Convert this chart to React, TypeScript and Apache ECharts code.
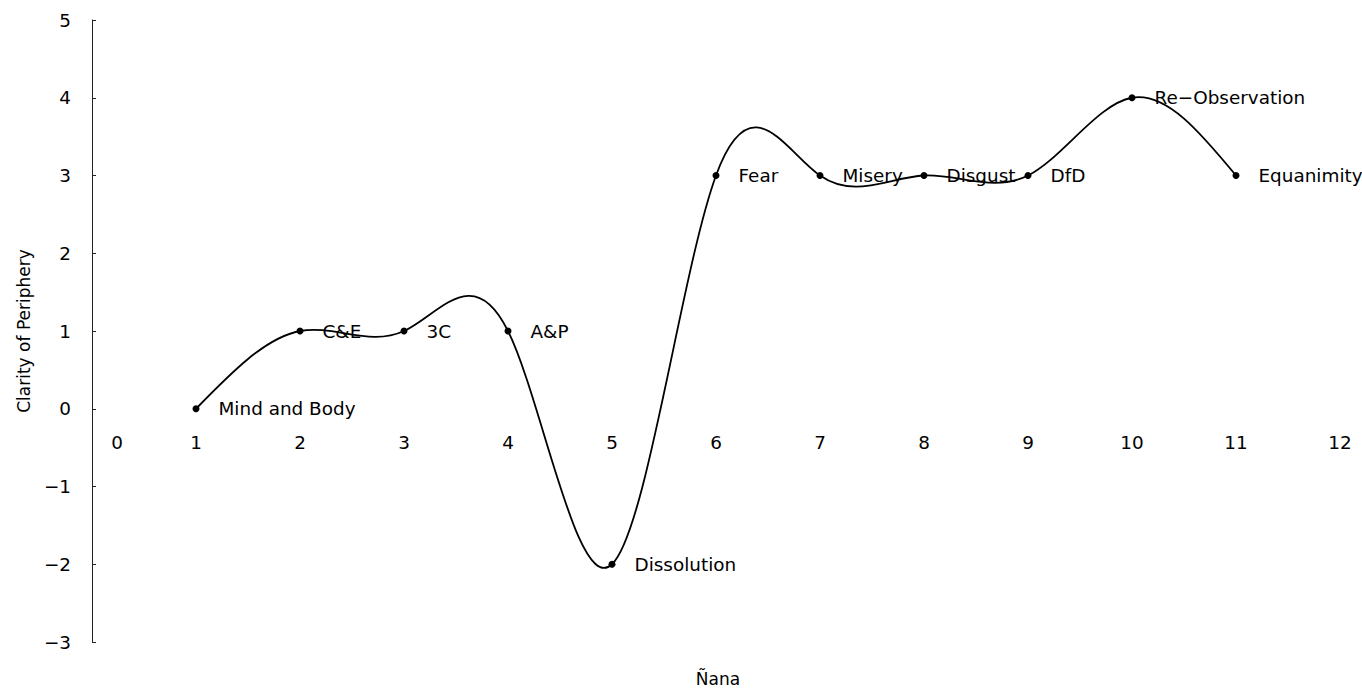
import React, { useEffect, useRef } from "react";
import * as echarts from "echarts";

// Stages of insight (ñana) and how clear the periphery is at each one
const stageNumbers = [1, 2, 3, 4, 5, 6, 7, 8, 9, 10, 11];
const clarityValues = [0, 1, 1, 1, -2, 3, 3, 3, 3, 4, 3];
const stageNames = [
  "Mind and Body",
  "C&E",
  "3C",
  "A&P",
  "Dissolution",
  "Fear",
  "Misery",
  "Disgust",
  "DfD",
  "Re\u2212Observation",
  "Equanimity",
];

const FONT = "DejaVu Sans";
const INK = "#000";

// Second derivatives of a natural cubic spline through (xs, ys)
function naturalSplineM(xs: number[], ys: number[]): number[] {
  const n = xs.length;
  const M = new Array(n).fill(0);
  if (n < 3) return M;
  const a: number[] = [], b: number[] = [], c: number[] = [], d: number[] = [];
  for (let i = 1; i < n - 1; i++) {
    const h0 = xs[i] - xs[i - 1];
    const h1 = xs[i + 1] - xs[i];
    a.push(h0);
    b.push(2 * (h0 + h1));
    c.push(h1);
    d.push(6 * ((ys[i + 1] - ys[i]) / h1 - (ys[i] - ys[i - 1]) / h0));
  }
  const m = b.length;
  for (let i = 1; i < m; i++) {
    const w = a[i] / b[i - 1];
    b[i] -= w * c[i - 1];
    d[i] -= w * d[i - 1];
  }
  const sol = new Array(m).fill(0);
  sol[m - 1] = d[m - 1] / b[m - 1];
  for (let i = m - 2; i >= 0; i--) sol[i] = (d[i] - c[i] * sol[i + 1]) / b[i];
  for (let i = 0; i < m; i++) M[i + 1] = sol[i];
  return M;
}

const splineM = naturalSplineM(stageNumbers, clarityValues);

export default function App() {
  const ref = useRef<HTMLDivElement>(null);

  useEffect(() => {
    if (!ref.current) return;
    const chart = echarts.init(ref.current, undefined, { renderer: "svg" });
    const points = stageNumbers.map((x, i) => [x, clarityValues[i]]);

    // Each data item draws the spline segment to the next stage as one bezier curve
    const renderSegment = (params: any, api: any) => {
      const i = params.dataIndex;
      if (i >= stageNumbers.length - 1) return null;
      const x0 = stageNumbers[i], x1 = stageNumbers[i + 1];
      const y0 = clarityValues[i], y1 = clarityValues[i + 1];
      const h = x1 - x0;
      const s0 = (y1 - y0) / h - (h * (2 * splineM[i] + splineM[i + 1])) / 6;
      const s1 = (y1 - y0) / h + (h * (splineM[i] + 2 * splineM[i + 1])) / 6;
      const p0 = api.coord([x0, y0]);
      const p1 = api.coord([x1, y1]);
      const c0 = api.coord([x0 + h / 3, y0 + (s0 * h) / 3]);
      const c1 = api.coord([x1 - h / 3, y1 - (s1 * h) / 3]);
      return {
        type: "bezierCurve",
        shape: {
          x1: p0[0], y1: p0[1],
          x2: p1[0], y2: p1[1],
          cpx1: c0[0], cpy1: c0[1],
          cpx2: c1[0], cpy2: c1[1],
        },
        style: { stroke: INK, lineWidth: 1.8, fill: null },
      };
    };

    chart.setOption({
      animation: false,
      backgroundColor: "#ffffff",
      grid: { left: 92, right: 22, top: 20, bottom: 49, containLabel: false },
      xAxis: {
        type: "value",
        min: 0,
        max: 12,
        interval: 1,
        // tick numbers sit just under the zero line of the value axis
        offset: -233,
        axisLine: { show: false, onZero: false },
        axisTick: { show: false },
        splitLine: { show: false },
        axisLabel: {
          margin: 24,
          color: INK,
          fontFamily: FONT,
          fontSize: 18.4,
          formatter: (v: number) => (v === 0 ? "{z|0}" : String(v)),
          rich: {
            z: { padding: [0, 0, 0, 50], fontFamily: FONT, fontSize: 18.4, color: INK },
          },
        },
      },
      yAxis: {
        type: "value",
        min: -3,
        max: 5,
        interval: 1,
        name: "Clarity of Periphery",
        nameLocation: "middle",
        nameGap: 60,
        nameTextStyle: { fontFamily: FONT, fontSize: 17, color: INK },
        axisLine: { show: true, onZero: false, lineStyle: { color: "#222", width: 1 } },
        axisTick: { show: true, inside: true, length: 4, lineStyle: { color: "#222" } },
        splitLine: { show: false },
        axisLabel: {
          margin: 21,
          color: INK,
          fontFamily: FONT,
          fontSize: 18.4,
          formatter: (v: number) => (v < 0 ? "\u2212" + Math.abs(v) : String(v)),
        },
      },
      graphic: [
        {
          type: "text",
          x: 718,
          y: 679,
          style: {
            text: "\u00D1ana",
            font: `17px "${FONT}"`,
            fill: INK,
            align: "center",
            verticalAlign: "middle",
          },
        },
      ],
      series: [
        {
          type: "custom",
          data: points,
          renderItem: renderSegment,
          silent: true,
          z: 1,
        },
        {
          type: "scatter",
          data: points,
          symbol: "circle",
          symbolSize: 7,
          itemStyle: { color: INK, opacity: 1 },
          z: 2,
          label: {
            show: true,
            position: "right",
            distance: 19,
            color: INK,
            fontFamily: FONT,
            fontSize: 18.4,
            formatter: (p: any) => stageNames[p.dataIndex],
          },
        },
      ],
    });
    return () => chart.dispose();
  }, []);

  return (
    <div
      ref={ref}
      style={{ position: "fixed", left: 0, top: 0, width: 1362, height: 691 }}
    />
  );
}
